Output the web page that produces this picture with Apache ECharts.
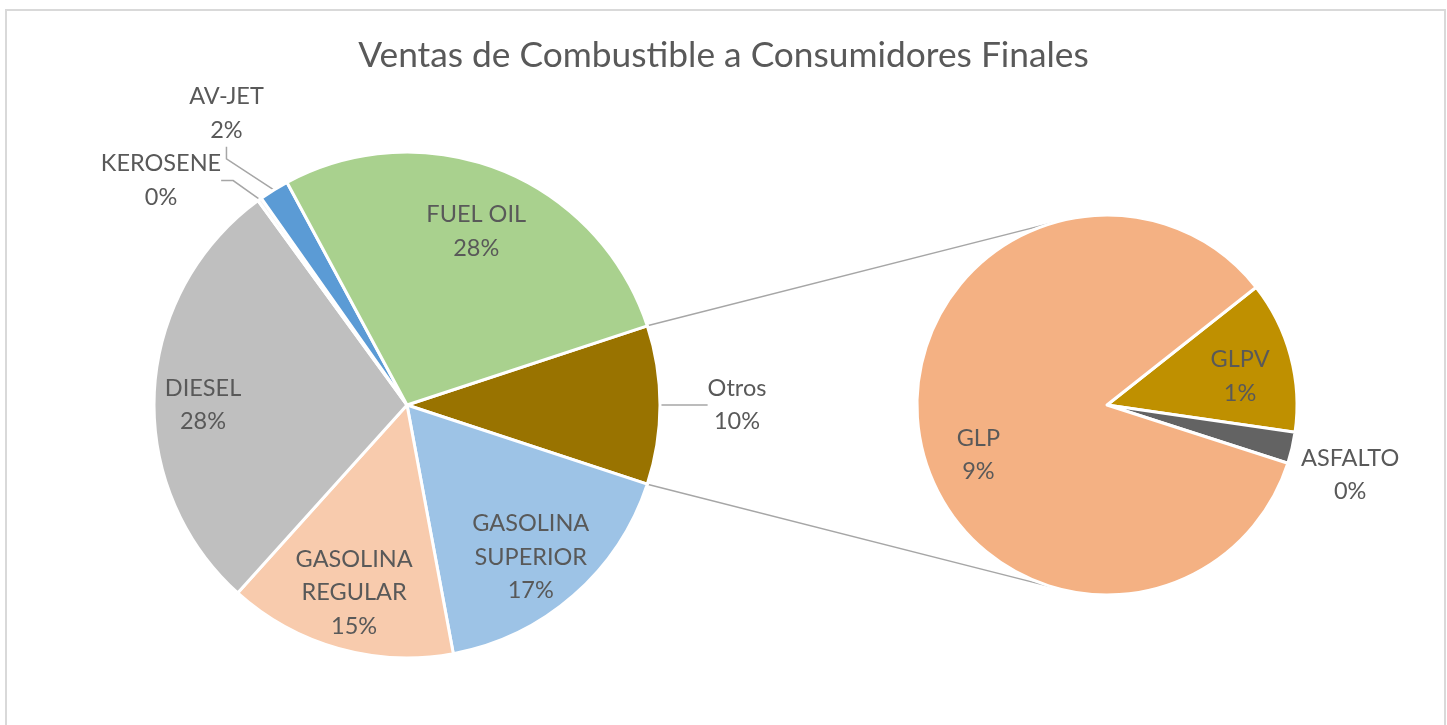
<!DOCTYPE html>
<html>
<head>
<meta charset="utf-8">
<script src="https://cdn.jsdelivr.net/npm/echarts@6/dist/echarts.min.js"></script>
<style>
  html, body { margin: 0; padding: 0; background: #fff; }
  #chart { width: 1447px; height: 725px; }
</style>
</head>
<body>
<div id="chart"></div>
<script>
// datos (porcentaje del total)
const mainCategories = ['GASOLINA SUPERIOR', 'GASOLINA REGULAR', 'DIESEL', 'KEROSENE', 'AV-JET', 'FUEL OIL']
const mainValues = [17.0, 14.6, 28.3, 0.25, 1.9, 27.8]
const otrosCategories = ['GLPV', 'ASFALTO', 'GLP']
const otrosValues = [1.31, 0.27, 8.55]

const colors = {
  'FUEL OIL': '#A9D18E',
  'AV-JET': '#5B9BD5',
  KEROSENE: '#F2F2F2',
  DIESEL: '#BFBFBF',
  'GASOLINA REGULAR': '#F8CBAD',
  'GASOLINA SUPERIOR': '#9DC3E6',
  Otros: '#997300',
  GLP: '#F4B183',
  GLPV: '#BF9000',
  ASFALTO: '#636363'
}

// etiquetas fuera del pastel y ajustes de posición (radio en px, giro en grados)
const outside = ['Otros', 'AV-JET', 'KEROSENE', 'ASFALTO']
const labelTweaks = {
  Otros: { r: 330 },
  'AV-JET': { r: 343 },
  KEROSENE: { r: 333, shift: 12 },
  'FUEL OIL': { r: 187 },
  DIESEL: { r: 204, shift: 3 },
  'GASOLINA REGULAR': { r: 195 },
  'GASOLINA SUPERIOR': { r: 196, shift: -2 },
  ASFALTO: { r: 253, shift: -3 },
  GLPV: { r: 136, shift: -3 },
  GLP: { r: 138, shift: 11 }
}

const mainC = [407, 405]
const mainR = 253
const secC = [1107, 405]
const secR = 190
const FONT = 'Lato, "Open Sans", sans-serif'
const TEXT = '#595959'

const otrosTotal = otrosValues.reduce((a, b) => a + b, 0)
const grandTotal = mainValues.reduce((a, b) => a + b, 0) + otrosTotal

const mainNames = ['Otros', ...mainCategories]
const mainData = [otrosTotal, ...mainValues]

const mainStart = (otrosTotal / grandTotal) * 180
const secStart = 38.3

// angulo medio de cada porción (sentido horario desde startAngle)
const midAngles = (values, start) => {
  const sum = values.reduce((a, b) => a + b, 0)
  let acc = 0
  return values.map((v) => {
    const mid = start - ((acc + v / 2) / sum) * 360
    acc += v
    return mid
  })
}

const mainMids = midAngles(mainData, mainStart)
const secMids = midAngles(otrosValues, secStart)

const placeLabels = (center, radius, mids, names, ratio) => (params) => {
  const name = names[params.dataIndex]
  const t = labelTweaks[name] || {}
  const ang = ((mids[params.dataIndex] + (t.shift || 0)) * Math.PI) / 180
  const r = t.r != null ? t.r : radius * ratio
  return {
    x: center[0] + r * Math.cos(ang),
    y: center[1] - r * Math.sin(ang),
    align: 'center',
    verticalAlign: 'middle'
  }
}

const buildItems = (names, values) =>
  names.map((name, i) => {
    const isOut = outside.includes(name)
    return {
      name,
      value: values[i],
      itemStyle: { color: colors[name] },
      label: { position: isOut ? 'outside' : 'inside' },
      labelLine: { show: isOut && name !== 'ASFALTO' }
    }
  })

// nombres largos en dos líneas, como en Excel
const pctLabel = (p) => {
  const name = p.name.length > 12 ? p.name.replace(' ', '\n') : p.name
  return name + '\n' + Math.round((p.value / grandTotal) * 100) + '%'
}

// lineas de union entre Otros y el pastel secundario
const half = (mainStart * Math.PI) / 180
const pTop = [mainC[0] + mainR * Math.cos(half), mainC[1] - mainR * Math.sin(half)]
const pBot = [mainC[0] + mainR * Math.cos(half), mainC[1] + mainR * Math.sin(half)]

const tangent = (p, c, r, upper) => {
  const dx = p[0] - c[0]
  const dy = p[1] - c[1]
  const d = Math.hypot(dx, dy)
  const base = Math.atan2(dy, dx)
  const off = Math.acos(r / d)
  const a = upper ? base + off : base - off
  return [c[0] + r * Math.cos(a), c[1] + r * Math.sin(a)]
}
const tTop = tangent(pTop, secC, secR, true)
const tBot = tangent(pBot, secC, secR, false)

const labelCommon = {
  show: true,
  formatter: pctLabel,
  color: TEXT,
  fontFamily: FONT,
  fontSize: 23.5,
  lineHeight: 33.5
}

const labelLineCommon = {
  length: 20,
  length2: 12,
  smooth: false,
  lineStyle: { color: '#A6A6A6', width: 1.5 }
}

const chart = echarts.init(document.getElementById('chart'))

chart.setOption({
  animation: false,
  backgroundColor: '#fff',
  title: {
    text: 'Ventas de Combustible a Consumidores Finales',
    left: 'center',
    top: 33,
    textStyle: {
      color: TEXT,
      fontFamily: FONT,
      fontWeight: 'normal',
      fontSize: 35.3
    }
  },
  graphic: [
    {
      type: 'rect',
      shape: { x: 6, y: 10, width: 1439, height: 760 },
      style: { fill: 'none', stroke: '#D9D9D9', lineWidth: 2 },
      silent: true
    },
    {
      type: 'line',
      shape: { x1: pTop[0], y1: pTop[1], x2: tTop[0], y2: tTop[1] },
      style: { stroke: '#A6A6A6', lineWidth: 1.5 },
      silent: true
    },
    {
      type: 'line',
      shape: { x1: pBot[0], y1: pBot[1], x2: tBot[0], y2: tBot[1] },
      style: { stroke: '#A6A6A6', lineWidth: 1.5 },
      silent: true
    }
  ],
  series: [
    {
      name: 'principal',
      type: 'pie',
      center: mainC,
      radius: [0, mainR],
      startAngle: mainStart,
      clockwise: true,
      avoidLabelOverlap: false,
      emphasis: { disabled: true },
      itemStyle: { borderColor: '#fff', borderWidth: 3 },
      label: labelCommon,
      labelLine: labelLineCommon,
      labelLayout: placeLabels(mainC, mainR, mainMids, mainNames, 0.77),
      data: buildItems(mainNames, mainData)
    },
    {
      name: 'Otros',
      type: 'pie',
      center: secC,
      radius: [0, secR],
      startAngle: secStart,
      clockwise: true,
      avoidLabelOverlap: false,
      emphasis: { disabled: true },
      itemStyle: { borderColor: '#fff', borderWidth: 3 },
      label: labelCommon,
      labelLine: labelLineCommon,
      labelLayout: placeLabels(secC, secR, secMids, otrosCategories, 0.72),
      data: buildItems(otrosCategories, otrosValues)
    }
  ]
})
</script>
</body>
</html>
